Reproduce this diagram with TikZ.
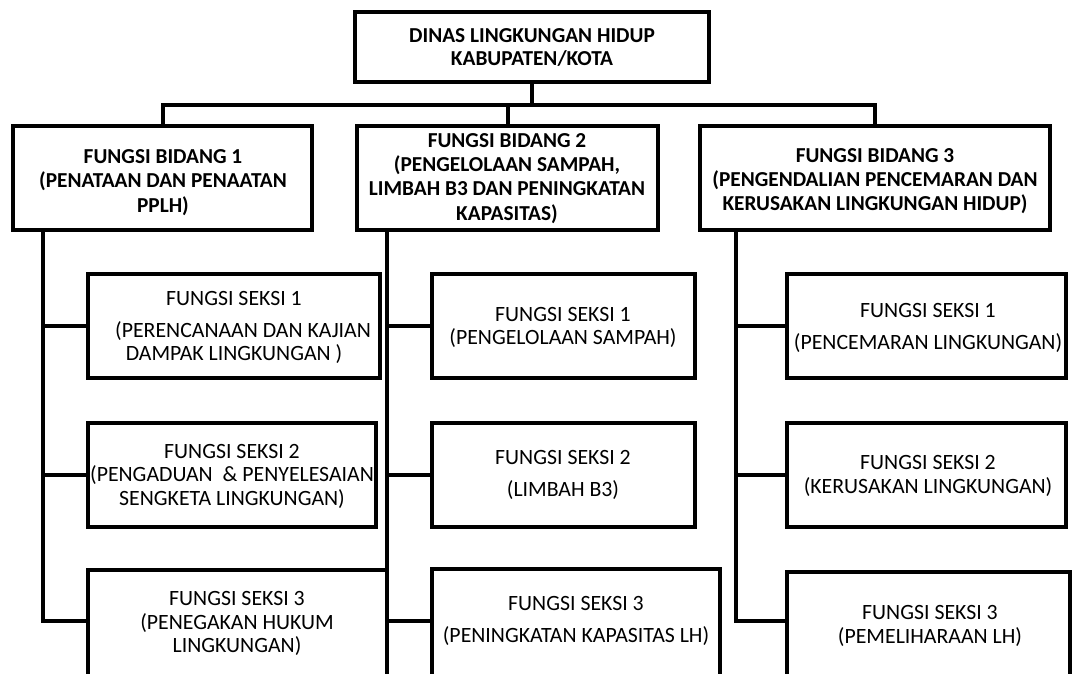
\documentclass[tikz,border=0pt]{standalone}
\usepackage{fontspec}
\setmainfont{Carlito}
\tikzset{
  box/.style={draw=black, line width=4pt, rectangle, inner sep=0pt},
  conn/.style={draw=black, line width=4pt},
  head/.style={align=center, inner sep=0pt, font=\bfseries\fontsize{21.3}{24.2}\selectfont},
  sub/.style={align=center, inner sep=0pt, font=\fontsize{21.8}{23.5}\selectfont},
}
% box by its corner coordinates: name, x1, y1, x2, y2
\newcommand\orgbox[5]{%
  \node[box, minimum width={(#4-#2)*1pt}, minimum height={(#5-#3)*1pt}]
    (#1) at ({(#2+#4)/2},{(#3+#5)/2}) {};}
\begin{document}
\begin{tikzpicture}[x=1pt, y=-1pt]
  \useasboundingbox (0,0) rectangle (1075,673);
  \clip (0,0) rectangle (1075,673);

  % boxes
  \orgbox{top}{355}{12}{709}{82}
  \orgbox{b1}{13}{126}{312}{230}
  \orgbox{b2}{357}{126}{658}{230}
  \orgbox{b3}{700}{126}{1050}{230}
  \orgbox{s11}{88}{274}{380}{378}
  \orgbox{s12}{88}{423}{376}{527}
  \orgbox{s13}{88}{570}{387}{700}
  \orgbox{s21}{432}{274}{695}{378}
  \orgbox{s22}{432}{423}{695}{527}
  \orgbox{s23}{432}{569}{720}{700}
  \orgbox{s31}{787}{274}{1066}{378}
  \orgbox{s32}{787}{423}{1066}{527}
  \orgbox{s33}{787}{572}{1070}{700}

  % head to the three fields
  \coordinate (bus) at (163,105);
  \draw[conn] (b1.north) -- (b1.north |- bus) -- (b3.north |- bus) -- (b3.north);
  \draw[conn] (top.south) -- (top.south |- bus);
  \draw[conn] (b2.north) -- (b2.north |- bus);

  % field spines
  \coordinate (sp1) at ([xshift=-119.5pt]b1.south);
  \coordinate (sp2) at ([xshift=-120.5pt]b2.south);
  \coordinate (sp3) at ([xshift=-139pt]b3.south);
  \coordinate (s13in) at ([yshift=-53pt]s13.north west);
  \coordinate (s23in) at ([yshift=-54pt]s23.north west);
  \coordinate (s33in) at ([yshift=-51pt]s33.north west);

  \draw[conn] (sp1) -- (sp1 |- s13in) -- (s13in);
  \draw[conn] (sp1 |- s11.west) -- (s11.west);
  \draw[conn] (sp1 |- s12.west) -- (s12.west);

  \draw[conn] (sp2) -- (sp2 |- s23in) -- (s23in);
  \draw[conn] (sp2 |- s21.west) -- (s21.west);
  \draw[conn] (sp2 |- s22.west) -- (s22.west);

  \draw[conn] (sp3) -- (sp3 |- s33in) -- (s33in);
  \draw[conn] (sp3 |- s31.west) -- (s31.west);
  \draw[conn] (sp3 |- s32.west) -- (s32.west);

  % labels
  \node[head] (toptx) at (532,47.5) {DINAS LINGKUNGAN HIDUP\\[-1pt]KABUPATEN/KOTA};
  \node[head] (b1tx) at (163,182.5) {FUNGSI BIDANG 1\\(PENATAAN DAN PENAATAN\\PPLH)};
  \node[head] (b2tx) at (507,178.5) {FUNGSI BIDANG 2\\(PENGELOLAAN SAMPAH,\\LIMBAH B3 DAN PENINGKATAN\\KAPASITAS)};
  \node[head] (b3tx) at (875,181) {FUNGSI BIDANG 3\\(PENGENDALIAN PENCEMARAN DAN\\KERUSAKAN LINGKUNGAN HIDUP)};

  \node[sub] (s11tx) at (234,327.5) {FUNGSI SEKSI 1\\[8pt]\hspace*{18pt}(PERENCANAAN DAN KAJIAN\\DAMPAK LINGKUNGAN )};
  \node[sub] (s12tx) at (232,476) {FUNGSI SEKSI 2\\(PENGADUAN\ \ \& PENYELESAIAN\\SENGKETA LINGKUNGAN)};
  \node[sub] (s13tx) at (237,623.5) {FUNGSI SEKSI 3\\(PENEGAKAN HUKUM\\LINGKUNGAN)};

  \node[sub] (s21tx) at (563,327.5) {FUNGSI SEKSI 1\\(PENGELOLAAN SAMPAH)};
  \node[sub] (s22tx) at (563,475) {FUNGSI SEKSI 2\\[8.5pt](LIMBAH B3)};
  \node[sub] (s23tx) at (576,621) {FUNGSI SEKSI 3\\[8.5pt](PENINGKATAN KAPASITAS LH)};

  \node[sub] (s31tx) at (928,328) {FUNGSI SEKSI 1\\[8.5pt](PENCEMARAN LINGKUNGAN)};
  \node[sub] (s32tx) at (928,476) {FUNGSI SEKSI 2\\(KERUSAKAN LINGKUNGAN)};
  \node[sub] (s33tx) at (930,626) {FUNGSI SEKSI 3\\(PEMELIHARAAN LH)};
\end{tikzpicture}
\end{document}
